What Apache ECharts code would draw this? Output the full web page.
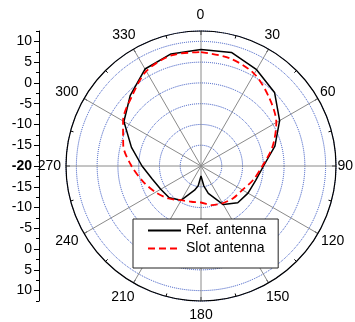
<!DOCTYPE html>
<html>
<head>
<meta charset="utf-8">
<script src="https://cdn.jsdelivr.net/npm/echarts@6/dist/echarts.min.js"></script>
<style>
html,body{margin:0;padding:0;background:#fff;}
#c{width:355px;height:322px;}
</style>
</head>
<body>
<div id="c"></div>
<script>
// ---- data ----
const refAngles = [0,15,30,45,60,75,90,105,120,135,150,165,172,180,188,195,210,225,240,255,270,285,300,315,330,345,360];
const refValues = [8.05,8.31,6.77,5.04,1.86,-1.58,-4.95,-6.4,-6.93,-7.48,-9.29,-13.2,-15.19,-17.59,-15.19,-13.98,-10.49,-9.17,-8.81,-7.84,-5.80,-2.67,1.43,4.07,6.96,7.93,8.05];
const slotAngles = [0,15,30,45,60,75,90,105,120,135,150,165,180,195,210,225,240,255,270,285,300,315,330,345,360];
const slotValues = [7.44,6.84,5.64,3.23,0.94,-2.19,-5.22,-7.0,-8.49,-9.05,-9.65,-10.25,-11.21,-11.09,-10.49,-8.93,-7.36,-5.56,-3.27,-0.62,1.67,3.59,6.36,7.56,7.44];
const seriesNames = ['Ref. antenna','Slot antenna'];
const angleTicks = [0,30,60,90,120,150,180,210,240,270,300,330];
const leftMajorTicks = [-30,-25,-20,-15,-10,-5,0,5,10,15,20,25,30];
const leftMinorTicks = [-32.5,-27.5,-22.5,-17.5,-12.5,-7.5,-2.5,2.5,7.5,12.5,17.5,22.5,27.5,32.5];

const FONT = 'Liberation Sans, Arial, sans-serif';
// per-label offsets for the angle labels (style only)
const labelPad = {
  0:[0,1,34,0], 30:[0,0,28,0], 60:[0,0,7,9], 90:[0,0,0,9.5],
  120:[9,0,0,10], 150:[28,0,0,1.5], 180:[30,0,0,0], 210:[29,3,0,0],
  240:[10,12.5,0,0], 270:[0,13,0,0], 300:[0,12.5,7,0], 330:[0,2,27.5,0]
};
const rich = {};
angleTicks.forEach(a => {
  rich['a' + a] = {fontSize:14, lineHeight:14, fontFamily:FONT, color:'#000', padding:labelPad[a]};
});

const chart = echarts.init(document.getElementById('c'), null, {renderer:'canvas'});
chart.setOption({
  animation:false,
  backgroundColor:'#fff',
  polar:{center:[201,166], radius:135},
  angleAxis:{
    type:'value', min:0, max:360, interval:30, startAngle:90, clockwise:true, z:1,
    axisLine:{show:true, lineStyle:{color:'#000', width:1.2}},
    axisTick:{show:true, inside:true, length:4, lineStyle:{color:'#000', width:1}},
    minorTick:{show:true, splitNumber:2, length:3, lineStyle:{color:'#000', width:1}},
    splitLine:{show:true, lineStyle:{color:'#8a8a8a', width:1}},
    axisLabel:{show:true, margin:-8, fontSize:14, fontFamily:FONT, color:'#000', rich:rich,
      formatter:function(v){ return '{a' + v + '|' + v + '}'; }}
  },
  radiusAxis:{
    type:'value', min:-20, max:12.5, interval:5, z:0,
    axisLine:{show:false}, axisTick:{show:false}, axisLabel:{show:false},
    splitLine:{show:true, lineStyle:{color:'#2f4fc0', width:1, type:'dotted'}}
  },
  grid:{left:39, top:31, width:10, height:270},
  xAxis:{type:'value', show:false},
  yAxis:[
    {type:'value', min:-32.5, max:32.5, position:'left',
      axisLine:{show:true, lineStyle:{color:'#000', width:1}},
      axisTick:{show:true, inside:false, length:5, customValues:leftMajorTicks, lineStyle:{color:'#000'}},
      axisLabel:{show:true, margin:7, fontSize:14, fontFamily:FONT, color:'#000', customValues:leftMajorTicks,
        rich:{b:{fontSize:14, fontFamily:FONT, color:'#000', fontWeight:'bold'}},
        formatter:function(v){ const t = Math.abs(v) - 20; return v === 0 ? '{b|' + t + '}' : String(t); }},
      splitLine:{show:false}},
    {type:'value', min:-32.5, max:32.5, position:'left', offset:0,
      axisLine:{show:false},
      axisTick:{show:true, inside:false, length:3, customValues:leftMinorTicks, lineStyle:{color:'#000'}},
      axisLabel:{show:false}, splitLine:{show:false}}
  ],
  legend:{
    data:seriesNames, orient:'vertical', left:133, top:219,
    padding:[3,12,11,14], itemGap:1, itemWidth:33, itemHeight:14,
    itemStyle:{opacity:0},
    textStyle:{fontSize:14, lineHeight:17, fontFamily:FONT, color:'#000'},
    borderColor:'#222', borderWidth:1, backgroundColor:'#fff', borderRadius:0
  },
  series:[
    {name:seriesNames[0], type:'line', coordinateSystem:'polar', symbol:'none', z:3,
      lineStyle:{color:'#000', width:1.5, type:'solid'}, itemStyle:{color:'#000'},
      data:refAngles.map((a,i) => [refValues[i], a])},
    {name:seriesNames[1], type:'line', coordinateSystem:'polar', symbol:'none', z:3, smooth:0.3,
      lineStyle:{color:'#ff0000', width:1.8, type:[7,4]}, itemStyle:{color:'#ff0000'},
      data:slotAngles.map((a,i) => [slotValues[i], a])}
  ]
});
</script>
</body>
</html>
